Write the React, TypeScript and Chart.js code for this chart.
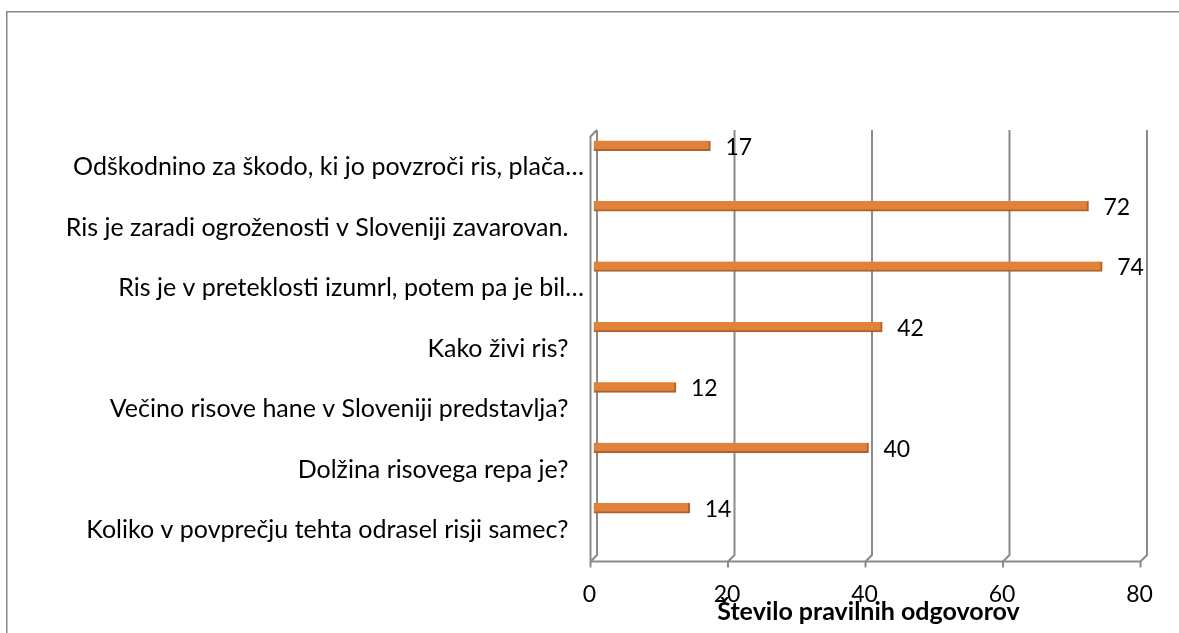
import React, { useEffect, useRef } from "react";
import { Chart, registerables } from "chart.js";

Chart.register(...registerables);

const categories = [
  "Odškodnino za škodo, ki jo povzroči ris, plača…",
  "Ris je zaradi ogroženosti v Sloveniji zavarovan.",
  "Ris je v preteklosti izumrl, potem pa je bil…",
  "Kako živi ris?",
  "Večino risove hane v Sloveniji predstavlja?",
  "Dolžina risovega repa je?",
  "Koliko v povprečju tehta odrasel risji samec?",
];
const values = [17, 72, 74, 42, 12, 40, 14];
const xTicks = [0, 20, 40, 60, 80];
const axisTitle = "Število pravilnih odgovorov";

const FONT = "Lato";
const GRID = "#8a8a8a";
const BACK_DX = 3.5;
const FRONT_DX = -3;
const BACK_BOTTOM = 555;
const FRONT_BOTTOM = 561.5;

const decorPlugin = {
  id: "decor",
  beforeDraw(chart: any) {
    const ctx = chart.ctx;
    ctx.save();
    ctx.fillStyle = "#fff";
    ctx.fillRect(0, 0, chart.width, chart.height);
    ctx.strokeStyle = "#888";
    ctx.lineWidth = 1.5;
    ctx.beginPath();
    ctx.moveTo(6.75, chart.height);
    ctx.lineTo(6.75, 11.75);
    ctx.lineTo(chart.width, 11.75);
    ctx.stroke();
    ctx.restore();
  },
  beforeDatasetsDraw(chart: any) {
    const ctx = chart.ctx;
    const xs = chart.scales.x;
    const top = chart.chartArea.top;
    ctx.save();
    ctx.strokeStyle = GRID;
    ctx.lineWidth = 2;
    ctx.lineCap = "butt";
    xTicks.forEach((v) => {
      const p = xs.getPixelForValue(v);
      ctx.beginPath();
      ctx.moveTo(p + BACK_DX, top);
      ctx.lineTo(p + BACK_DX, BACK_BOTTOM);
      ctx.lineTo(p + FRONT_DX, FRONT_BOTTOM);
      ctx.stroke();
      ctx.beginPath();
      ctx.moveTo(p + FRONT_DX, FRONT_BOTTOM);
      ctx.lineTo(p + FRONT_DX, FRONT_BOTTOM + 6);
      ctx.stroke();
    });
    const p0 = xs.getPixelForValue(0);
    const p80 = xs.getPixelForValue(80);
    ctx.beginPath();
    ctx.moveTo(p0 + BACK_DX, top);
    ctx.lineTo(p0 + FRONT_DX, top + 6.5);
    ctx.lineTo(p0 + FRONT_DX, FRONT_BOTTOM);
    ctx.stroke();
    ctx.beginPath();
    ctx.moveTo(p0 + FRONT_DX, FRONT_BOTTOM);
    ctx.lineTo(p80 + FRONT_DX, FRONT_BOTTOM);
    ctx.stroke();
    ctx.restore();
  },
  afterDatasetsDraw(chart: any) {
    const ctx = chart.ctx;
    const meta = chart.getDatasetMeta(0);
    ctx.save();
    ctx.fillStyle = "#000";
    ctx.font = `23px ${FONT}`;
    ctx.textAlign = "left";
    ctx.textBaseline = "middle";
    meta.data.forEach((bar: any, i: number) => {
      ctx.fillText(String(values[i]), bar.x + 15, bar.y + 1.5);
    });
    ctx.restore();
  },
};

export default function App() {
  const ref = useRef<HTMLCanvasElement>(null);
  useEffect(() => {
    if (!ref.current) return;
    const chart = new Chart(ref.current, {
      type: "bar",
      data: {
        datasets: [
          {
            label: "Pravilni odgovori",
            data: values.map((v, i) => ({ x: v, y: i })) as any,
            xAxisID: "x",
            yAxisID: "yb",
            backgroundColor: "#E0823A",
            borderColor: "#B0602A",
            borderWidth: { top: 0, left: 0, right: 2, bottom: 2 } as any,
            borderSkipped: false,
            barThickness: 10,
          },
        ],
      },
      options: {
        indexAxis: "y",
        responsive: false,
        animation: false,
        layout: { padding: { top: 130, bottom: 0, left: 0, right: 35.5 } },
        plugins: {
          legend: { display: false },
          tooltip: { enabled: false },
        },
        scales: {
          x: {
            type: "linear",
            position: "bottom",
            min: 0,
            max: 80,
            offset: false,
            grid: { display: false, drawTicks: false },
            border: { display: false },
            afterBuildTicks: (axis: any) => {
              axis.ticks = xTicks.map((v) => ({ value: v }));
            },
            ticks: {
              font: { family: FONT, size: 23 },
              color: "#000",
              padding: 19,
              labelOffset: -4,
            },
            title: {
              display: true,
              text: axisTitle,
              font: { family: FONT, size: 25, weight: "bold" },
              color: "#000",
              padding: { top: 0, bottom: 6.5 },
            },
            afterFit: (s: any) => {
              s.height = 71;
            },
          },
          y: {
            type: "linear",
            axis: "y",
            position: "left",
            reverse: true,
            offset: false,
            min: -0.612,
            max: 6.529,
            grid: { display: false, drawTicks: false },
            border: { display: false },
            afterBuildTicks: (axis: any) => {
              axis.ticks = categories.map((_, i) => ({ value: i }));
            },
            ticks: {
              autoSkip: false,
              font: { family: FONT, size: 25 },
              color: "#000",
              padding: 9.5,
              callback: (v: any) => {
                const t = categories[v as number] ?? "";
                return t.endsWith("…") ? t : t + "\u2002\u2009";
              },
            },
            afterFit: (s: any) => {
              s.width = 593.5;
            },
          },
          yb: {
            type: "linear",
            axis: "y",
            position: "left",
            display: false,
            reverse: true,
            offset: false,
            min: -0.26,
            max: 6.892,
          },
        } as any,
      },
      plugins: [decorPlugin],
    });
    return () => chart.destroy();
  }, []);
  return (
    <div style={{ position: "absolute", left: 0, top: 0, width: 1179, height: 633 }}>
      <canvas ref={ref} width={1179} height={633} style={{ display: "block" }} />
    </div>
  );
}
